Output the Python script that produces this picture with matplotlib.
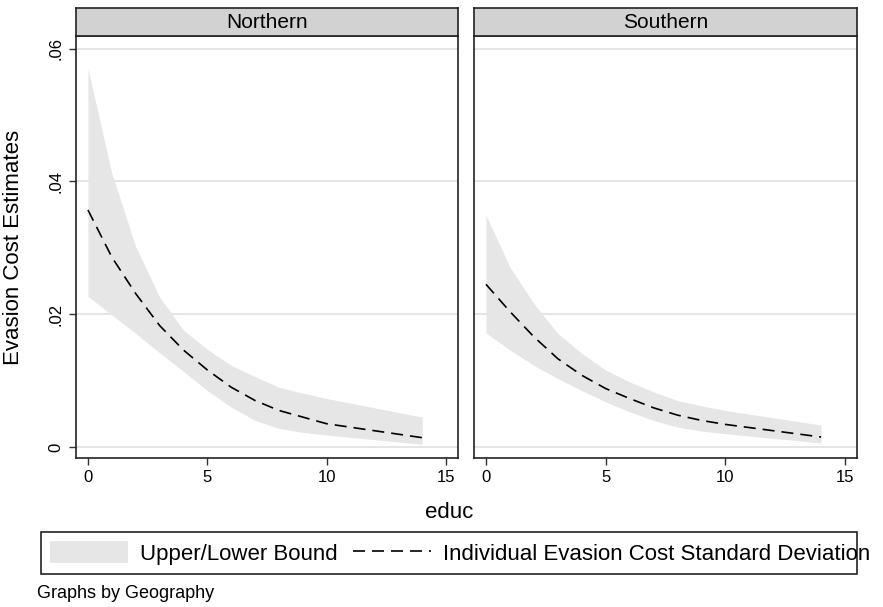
import matplotlib
matplotlib.use("Agg")
import matplotlib.pyplot as plt
from matplotlib.patches import Rectangle, Patch
from matplotlib.lines import Line2D

plt.rcParams['font.family'] = ['Liberation Sans', 'DejaVu Sans']

educ = [0, 1, 2, 3, 4, 5, 6, 7, 8, 9, 10, 14]
panels = ["Northern", "Southern"]

north_mid = [0.0357, 0.0286, 0.0231, 0.0183, 0.0146, 0.0116, 0.0090, 0.0070, 0.0055, 0.0045, 0.0035, 0.0014]
north_up = [0.0570, 0.0412, 0.0302, 0.0226, 0.0176, 0.0147, 0.0123, 0.0106, 0.0090, 0.0081, 0.0073, 0.0045]
north_lo = [0.0227, 0.0199, 0.0171, 0.0142, 0.0114, 0.0085, 0.0060, 0.0040, 0.0028, 0.0022, 0.0018, 0.0004]

south_mid = [0.0245, 0.0204, 0.0166, 0.0133, 0.0108, 0.0088, 0.0073, 0.0059, 0.0048, 0.0040, 0.0034, 0.0015]
south_up = [0.0349, 0.0271, 0.0216, 0.0171, 0.0141, 0.0116, 0.0098, 0.0083, 0.0070, 0.0062, 0.0055, 0.0033]
south_lo = [0.0172, 0.0146, 0.0123, 0.0103, 0.0085, 0.0068, 0.0053, 0.0040, 0.0030, 0.0024, 0.0020, 0.0006]

data = {
    "Northern": (north_lo, north_up, north_mid),
    "Southern": (south_lo, south_up, south_mid),
}

band_col = "#e6e6e6"
dash = (0, (7.2, 4.2))
fig = plt.figure(figsize=(8.83, 6.07), dpi=100)

# pixel layout of the two plot regions (left, right)
boxes = [(76, 458), (474, 857)]
top_px, bot_px, strip_px = 36, 458, 28
W, H = 883, 607

for i, name in enumerate(panels):
    l, r = boxes[i]
    ax = fig.add_axes([l / W, 1 - bot_px / H, (r - l) / W, (bot_px - top_px) / H])
    lo, up, mid = data[name]
    ax.fill_between(educ, lo, up, color=band_col, linewidth=0, zorder=2)
    ax.plot(educ, mid, color="black", linestyle=dash, linewidth=1.2, zorder=3)
    ax.set_xlim(-0.5, 15.5)
    ax.set_ylim(-0.00166, 0.0619)
    ax.set_yticks([0, 0.02, 0.04, 0.06])
    ax.set_xticks([0, 5, 10, 15])
    ax.set_xticklabels(["0", "5", "10", "15"], fontsize=12)
    ax.grid(axis="y", color="#e0e0e0", linewidth=1.2, zorder=1)
    ax.tick_params(direction="out", length=5, width=1, color="#333333", pad=4)
    for s in ax.spines.values():
        s.set_linewidth(1.2)
        s.set_color("#222222")
    if i == 0:
        ax.set_yticklabels(["0", ".02", ".04", ".06"], fontsize=12, rotation=90, va="center")
    else:
        ax.tick_params(axis="y", left=False, labelleft=False)
    # strip title
    sax = fig.add_axes([l / W, 1 - top_px / H, (r - l) / W, strip_px / H])
    sax.set_facecolor("#d2d2d2")
    sax.set_xticks([])
    sax.set_yticks([])
    for s in sax.spines.values():
        s.set_linewidth(1.2)
        s.set_color("#222222")
    sax.text(0.5, 0.5, name, ha="center", va="center", fontsize=15, transform=sax.transAxes)

fig.text(14 / W, 1 - 247 / H, "Evasion Cost Estimates", rotation=90,
         ha="center", va="center", fontsize=16)
fig.text(449 / W, 1 - 512 / H, "educ", ha="center", va="center", fontsize=16)

# legend frame
fig.patches.append(Rectangle((41 / W, 1 - 574 / H), (857 - 41) / W, 42 / H,
                             transform=fig.transFigure, fill=False,
                             edgecolor="#222222", linewidth=1.2))
handles = [Patch(facecolor=band_col, edgecolor="none"),
           Line2D([0], [0], color="black", linestyle=dash, linewidth=1.2)]
fig.legend(handles, ["Upper/Lower Bound", "Individual Evasion Cost Standard Deviation"],
           loc="center left", bbox_to_anchor=(50 / W, 1 - 553 / H), ncol=2,
           frameon=False, fontsize=16, handlelength=3.5, handleheight=1.1,
           columnspacing=0.7, handletextpad=0.55, borderaxespad=0, borderpad=0)

fig.text(37 / W, 1 - 593 / H, "Graphs by Geography", ha="left", va="center", fontsize=13)

fig.savefig("out.png", dpi=100)
